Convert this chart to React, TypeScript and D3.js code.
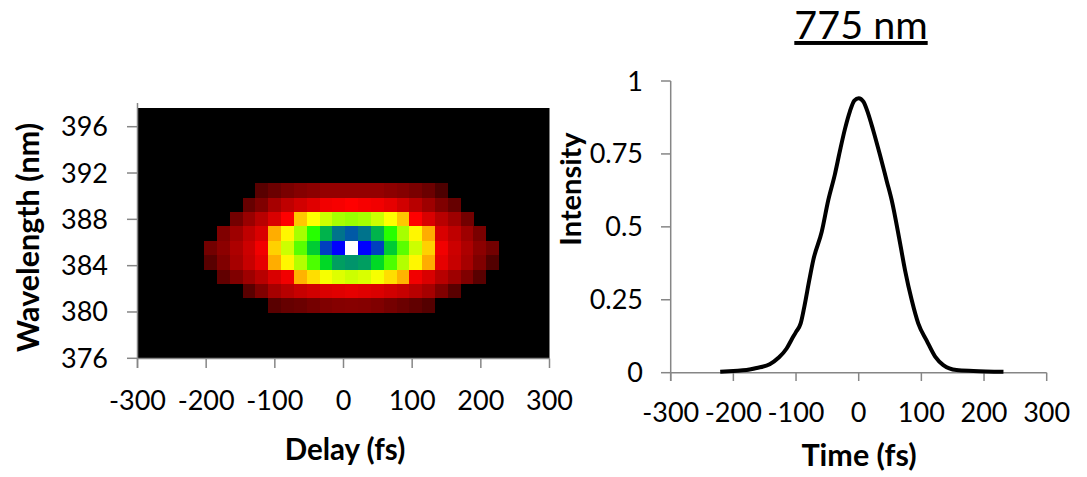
import React, { useEffect, useRef } from "react";
import * as d3 from "d3";

const delays = [-193.6,-174.9,-156.2,-137.5,-118.9,-100.2,-81.5,-62.8,-44.2,-25.5,-6.8,11.9,30.6,49.2,67.9,86.6,105.3,123.9,142.6,161.3,180,198.6,217.3];
const wavelengths = [390.49,389.25,388.01,386.77,385.52,384.28,383.04,381.8,380.55];
const rowStart = [4,3,2,1,0,0,1,3,5];
const rowValues = [
  [.35,.42,.48,.52,.55,.58,.58,.58,.58,.58,.55,.52,.48,.42,.3],
  [.4,.5,.65,.75,.82,.88,.95,.97,1,.97,.95,.9,.82,.72,.62,.5,.4],
  [.45,.6,.72,.85,1,1.78,2,2.2,2.35,2.4,2.35,2.2,2,1.78,1,.85,.72,.62,.45],
  [.5,.62,.75,.85,1.68,1.97,2.35,2.85,3.3,3.55,3.65,3.55,3.3,2.85,2.35,1.97,1.68,.85,.75,.62,.48],
  [.45,.55,.68,.8,.95,1.82,2.2,2.65,3.2,3.75,4,5,4,3.75,3.2,2.65,2.2,1.82,.95,.8,.68,.55,.45],
  [.35,.5,.65,.78,.9,1.68,1.97,2.3,2.7,3.15,3.38,3.42,3.38,3.15,2.7,2.3,1.97,1.68,.9,.78,.65,.5,.32],
  [.38,.5,.62,.72,.85,.95,1.7,1.87,2.03,2.13,2.2,2.15,2.03,1.87,1.7,.95,.85,.72,.62,.5,.35],
  [.35,.5,.65,.72,.78,.82,.86,.88,.9,.88,.86,.82,.78,.72,.65,.5,.35],
  [.35,.4,.42,.46,.5,.52,.53,.52,.5,.46,.42,.38,.33],
];
const colorStops = ["#000000","#ff0000","#ffff00","#00ff00","#0000ff","#ffffff"];
const colorDomain = [0,1,2,3,4,5];
const delayTicks = [-300,-200,-100,0,100,200,300];
const wavelengthTicks = [376,380,384,388,392,396];

const times = [-221,-200,-179,-163,-142,-128,-115,-107,-100,-92.6,-86.8,-78.8,-72.5,-59,-48.5,-38,-30,-22,-14,-7,0,7.5,15,23,34,45,52.6,66,73.9,84.6,95,108.5,122,135,156,183,231];
const intensity = [.003,.006,.009,.016,.029,.051,.083,.114,.14,.169,.226,.318,.386,.483,.592,.68,.76,.835,.896,.933,.941,.929,.889,.832,.746,.655,.592,.444,.352,.249,.169,.11,.055,.026,.009,.006,.003];
const intensityTicks = [0,.25,.5,.75,1];

const FONT = "Lato, 'Open Sans', sans-serif";
const GREY = "#868686";

export default function App() {
  const ref = useRef<SVGSVGElement>(null);
  useEffect(() => {
    const svg = d3.select(ref.current);
    svg.selectAll("*").remove();

    // heatmap
    const x = d3.scaleLinear().domain([-300,300]).range([137.5,549.5]);
    const y = d3.scaleLinear().domain([376,396]).range([358.3,126.7]);
    const color = d3.scaleLinear<string>().domain(colorDomain).range(colorStops).interpolate(d3.interpolateRgb);
    const dStep = delays[1]-delays[0];
    const wStep = wavelengths[0]-wavelengths[1];
    svg.append("rect").attr("x",x(-300)).attr("y",108).attr("width",x(300)-x(-300)).attr("height",358.5-108).attr("fill","#000");
    rowValues.forEach((row,i)=>{
      row.forEach((v,j)=>{
        const d = delays[rowStart[i]+j];
        const w = wavelengths[i];
        svg.append("rect")
          .attr("x",x(d-dStep/2)).attr("width",x(d+dStep/2)-x(d-dStep/2))
          .attr("y",y(w+wStep/2)).attr("height",y(w-wStep/2)-y(w+wStep/2))
          .attr("fill",color(v)).attr("shape-rendering","crispEdges");
      });
    });

    const line = (x1:number,y1:number,x2:number,y2:number)=>svg.append("line")
      .attr("x1",x1).attr("y1",y1).attr("x2",x2).attr("y2",y2)
      .attr("stroke",GREY).attr("stroke-width",1.5);
    const text = (s:string,tx:number,ty:number,size:number,anchor="middle",weight="400")=>svg.append("text")
      .attr("x",tx).attr("y",ty).attr("font-size",size).attr("font-family",FONT)
      .attr("font-weight",weight).attr("text-anchor",anchor).attr("fill","#000").text(s);

    // left axes
    line(x(-300),103,x(-300),368);
    line(x(-300),358.5,x(300),358.5);
    wavelengthTicks.forEach(t=>{
      line(127,y(t),x(-300),y(t));
      text(String(t),108,y(t)+9.5,27,"end");
    });
    delayTicks.forEach(t=>{
      line(x(t),358.5,x(t),368);
      text(String(t),x(t),410,27);
    });
    text("Delay (fs)",345,460,29.5,"middle","700");
    text("Wavelength (nm)",0,0,30.5,"middle","700").attr("transform","translate(39,237.5) rotate(-90)");

    // right chart
    const x2 = d3.scaleLinear().domain([-300,300]).range([670.7,1046.7]);
    const y2 = d3.scaleLinear().domain([0,1]).range([372.7,81]);
    line(x2(-300),81,x2(-300),381);
    line(x2(-300),372.7,x2(300),372.7);
    intensityTicks.forEach(t=>{
      line(661,y2(t),x2(-300),y2(t));
      text(String(t),643,y2(t)+9.5,27,"end");
    });
    delayTicks.forEach(t=>{
      line(x2(t),372.7,x2(t),381);
      text(String(t),x2(t),422,27);
    });
    const path = d3.line<number>().x((_,i)=>x2(times[i])).y(d=>y2(d)).curve(d3.curveMonotoneX);
    svg.append("path").attr("d",path(intensity)).attr("fill","none").attr("stroke","#000").attr("stroke-width",4).attr("stroke-linejoin","round");
    text("Time (fs)",859,466,30.5,"middle","700");
    text("Intensity",0,0,29,"middle","700").attr("transform","translate(581,189) rotate(-90)");
    text("775 nm",861,39,39.5).attr("text-decoration","underline");
  },[]);
  return <svg ref={ref} width={1087} height={477} style={{position:"absolute",left:0,top:0,background:"#fff"}} />;
}
